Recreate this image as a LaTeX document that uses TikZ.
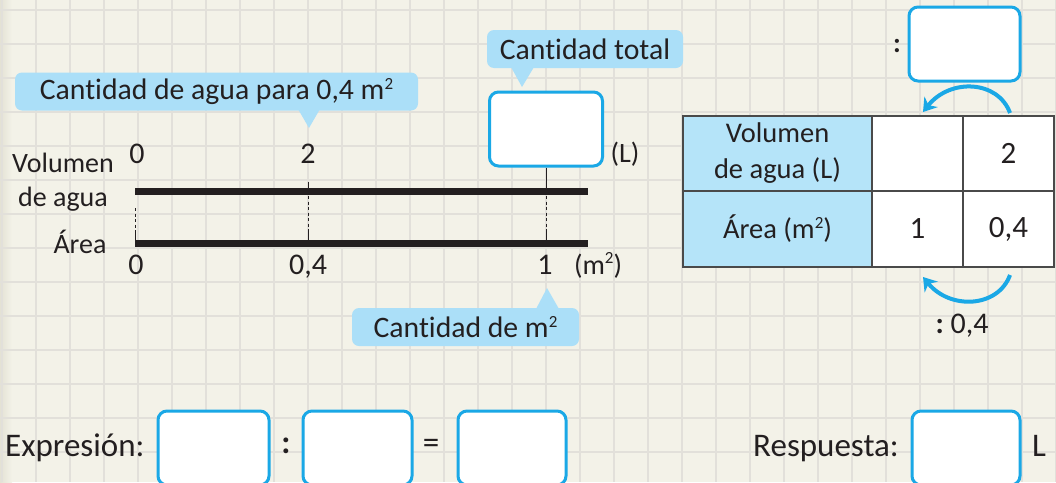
\documentclass[tikz,border=0pt]{standalone}
\usepackage{fontspec}
\setmainfont{Carlito}[Ligatures={NoCommon}]
\usetikzlibrary{arrows.meta}
\definecolor{bg}{HTML}{F3F2E8}
\definecolor{gridc}{HTML}{E2E0DA}
\definecolor{edgec}{HTML}{E4E2D4}
\definecolor{callc}{HTML}{ABDFF8}
\definecolor{headc}{HTML}{B5E4F9}
\definecolor{boxc}{HTML}{1AA8E6}
\definecolor{ink}{HTML}{231F20}
\definecolor{tablec}{HTML}{4A4A4A}
\newcommand{\dcolon}{{\bfseries :}}
\newcommand{\sqsup}{\raisebox{0.75ex}{\fontsize{17}{17}\selectfont 2}}
\begin{document}
\begin{tikzpicture}[x=1pt,y=-1pt,
  txt/.style={text=ink, font=\fontsize{28}{33}\selectfont, inner sep=0pt},
  big/.style={text=ink, font=\fontsize{33}{38}\selectfont, inner sep=0pt},
  callout/.style={fill=callc, rounded corners=7pt, text=ink, font=\fontsize{29.7}{33}\selectfont, inner sep=0pt, minimum height=38pt},
  ansbox/.style={draw=boxc, line width=3pt, fill=white, rounded corners=9pt, inner sep=0pt},
  bar/.style={line width=7pt, ink},
  tick/.style={ink, line width=1pt},
  guide/.style={ink, line width=1pt, dash pattern=on 3pt off 2.5pt},
  cell/.style={draw=tablec, line width=1.4pt, fill=white, text=ink, font=\fontsize{28.5}{36}\selectfont, inner sep=0pt, align=center},
  hcell/.style={cell, fill=headc},
  turn/.style={boxc, line width=4pt, -{Stealth[length=13pt,width=17pt]}}
]
\useasboundingbox (0,0) rectangle (1056,482);
\clip (0,0) rectangle (1056,482);
% background and grid
\fill[bg] (0,0) rectangle (1056,482);
\shade[left color=edgec, right color=bg] (0,0) rectangle (12,482);
\foreach \i in {0,...,31} \draw[gridc, line width=1.5pt] (2+34*\i,0) -- (2+34*\i,482);
\foreach \j in {0,...,14} \draw[gridc, line width=1.5pt] (0,10+34*\j) -- (1056,10+34*\j);

% callouts
\node[callout, minimum width=403pt] (c1) at (216.5,91.5) {Cantidad de agua para 0,4 m\sqsup};
\fill[callc] (298,109) -- (309,128) -- (320,109) -- cycle;
\node[callout, minimum width=196pt] (c2) at (585,49) {Cantidad total};
\fill[callc] (511,67) -- (522,87) -- (534,67) -- cycle;
\node[callout, minimum width=227pt] (c3) at (465.5,327) {Cantidad de m\sqsup};
\fill[callc] (536,309) -- (547,288) -- (559,309) -- cycle;

% answer box on the tape
\node[ansbox, minimum width=113pt, minimum height=74pt] (tot) at (546,129) {};
\node[txt, anchor=base] (lL) at (625,162) {(L)};

% tape labels
\node[txt, anchor=base] (vol1) at (63,172) {Volumen};
\node[txt, anchor=base] (vol2) at (63,206) {de agua};
\node[txt, anchor=base] (area) at (80,253) {Área};
\node[txt, anchor=base, font=\fontsize{30}{33}\selectfont] (v0) at (137,163) {0};
\node[txt, anchor=base, font=\fontsize{30}{33}\selectfont] (v2) at (308,163) {2};
\node[txt, anchor=base, font=\fontsize{30}{33}\selectfont] (a0) at (136,274) {0};
\node[txt, anchor=base, font=\fontsize{30}{33}\selectfont] (a04) at (308,274) {0,4};
\node[txt, anchor=base, font=\fontsize{30}{33}\selectfont] (a1) at (545,274) {1};
\node[txt, anchor=base] (am2) at (598,274) {(m\sqsup)};

% bars
\coordinate (vs) at (135,191); \coordinate (ve) at (588,191);
\coordinate (as) at (135,243); \coordinate (ae) at (588,243);
\draw[bar] (vs) -- (ve);
\draw[bar] (as) -- (ae);

% ticks and guides
\coordinate (t2) at (308,182);
\coordinate (v2b) at (308,191);
\coordinate (tb) at (546,191);
\draw[tick] (tot.south) -- (tb);
\draw[tick] (t2) -- (v2b);
\draw[tick] (135,231) -- (as);
\draw[tick] (308,231) -- (308,243);
\draw[tick] (546,231) -- (546,243);
\draw[guide] (308,196) -- (308,231);
\draw[guide] (546,196) -- (546,231);
\draw[guide] (135,208) -- (135,231);

% table
\node[hcell, minimum width=189pt, minimum height=75pt] (hv) at (777.5,153.5) {Volumen\\de agua (L)};
\node[hcell, minimum width=189pt, minimum height=76pt] (ha) at (777.5,229) {Área (m\sqsup)};
\node[cell, minimum width=91pt, minimum height=75pt] (c11) at (917.5,153.5) {};
\node[cell, minimum width=91pt, minimum height=75pt, font=\fontsize{31}{36}\selectfont] (c12) at (1008.5,153.5) {2};
\node[cell, minimum width=91pt, minimum height=76pt, font=\fontsize{31}{36}\selectfont] (c21) at (917.5,229) {1};
\node[cell, minimum width=91pt, minimum height=76pt, font=\fontsize{31}{36}\selectfont] (c22) at (1008.5,229) {0,4};

% divisor box and arrows
\node[ansbox, minimum width=111pt, minimum height=74pt] (dv) at (964.5,44) {};
\node[txt, anchor=center] (dcol) at (897,46) {\dcolon};
\coordinate (ts) at (1010,113);
\coordinate (te) at (923,112);
\draw[turn] (ts) .. controls (998,80) and (950,78) .. (te);
\coordinate (bs) at (1010,275);
\coordinate (be) at (923,277);
\draw[turn] (bs) .. controls (998,308) and (950,310) .. (be);
\node[txt, anchor=base, font=\fontsize{30}{33}\selectfont] (div04) at (962,333) {\dcolon\ 0,4};

% expression line
\node[big, anchor=base west] (expr) at (5,456) {Expresión:};
\node[ansbox, minimum width=111pt, minimum height=74pt] (b1) at (213.5,448) {};
\node[big, anchor=center] (colon) at (286,446) {\dcolon};
\node[ansbox, minimum width=109pt, minimum height=74pt] (b2) at (357.5,448) {};
\node[big, anchor=center] (eq) at (431,446) {=};
\node[ansbox, minimum width=108pt, minimum height=74pt] (b3) at (512,448) {};
\node[big, anchor=base west] (resp) at (753,456) {Respuesta:};
\node[ansbox, minimum width=108pt, minimum height=74pt] (b4) at (966,448) {};
\node[big, anchor=base west] (unit) at (1032,456) {L};
\end{tikzpicture}
\end{document}
